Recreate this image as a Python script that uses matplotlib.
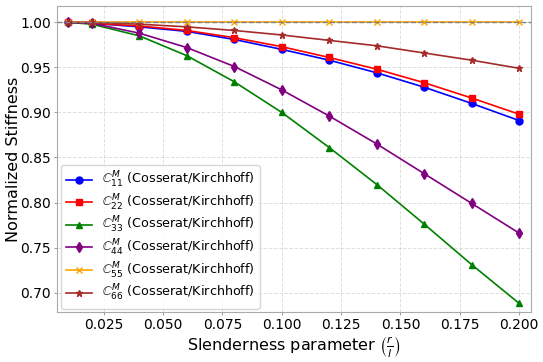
import matplotlib
matplotlib.use("Agg")
import matplotlib.pyplot as plt

slenderness = [0.01, 0.02, 0.04, 0.06, 0.08, 0.10, 0.12, 0.14, 0.16, 0.18, 0.20]
c11 = [1.000, 0.999, 0.995, 0.990, 0.981, 0.970, 0.958, 0.944, 0.928, 0.910, 0.891]
c22 = [1.000, 0.999, 0.996, 0.991, 0.983, 0.973, 0.961, 0.948, 0.933, 0.916, 0.898]
c33 = [1.000, 0.998, 0.985, 0.963, 0.934, 0.900, 0.861, 0.820, 0.776, 0.731, 0.688]
c44 = [1.000, 0.999, 0.988, 0.972, 0.951, 0.925, 0.896, 0.865, 0.832, 0.799, 0.766]
c55 = [1.000, 1.000, 1.000, 1.000, 1.000, 1.000, 1.000, 1.000, 1.000, 1.000, 1.000]
c66 = [1.000, 1.000, 0.998, 0.995, 0.991, 0.986, 0.980, 0.974, 0.966, 0.958, 0.949]

series = [
    (c11, "blue", "o", "11"),
    (c22, "red", "s", "22"),
    (c33, "green", "^", "33"),
    (c44, "purple", "d", "44"),
    (c55, "orange", "x", "55"),
    (c66, "brown", "*", "66"),
]

fig, ax = plt.subplots(figsize=(5.43, 3.62), dpi=100)
for vals, col, mk, idx in series:
    ax.plot(slenderness, vals, color=col, marker=mk, markersize=5, linewidth=1.2,
            label=r"$\mathbb{C}^M_{" + idx + r"}$ (Cosserat/Kirchhoff)")
ax.axhline(1.0, color="gray", linestyle="--", linewidth=1.0)

ax.set_xlim(0.0053, 0.205)
ax.set_ylim(0.678, 1.018)
ax.set_xticks([0.025, 0.05, 0.075, 0.1, 0.125, 0.15, 0.175, 0.2])
ax.set_xlabel(r"Slenderness parameter $\left(\frac{r}{l}\right)$", fontsize=11.5, labelpad=1)
ax.set_ylabel("Normalized Stiffness", fontsize=11.5, labelpad=-0.5)
ax.tick_params(labelsize=10, length=2.3, pad=2, width=0.7, color="#999999")
ax.grid(True, linestyle="--", alpha=0.4, linewidth=0.7)
for s in ax.spines.values():
    s.set_color("#aaaaaa")
ax.legend(loc="lower left", fontsize=9.2, labelspacing=0.2, borderaxespad=0.3)
fig.subplots_adjust(left=0.105, right=0.978, top=0.983, bottom=0.137)
fig.savefig("out.png", dpi=100)
